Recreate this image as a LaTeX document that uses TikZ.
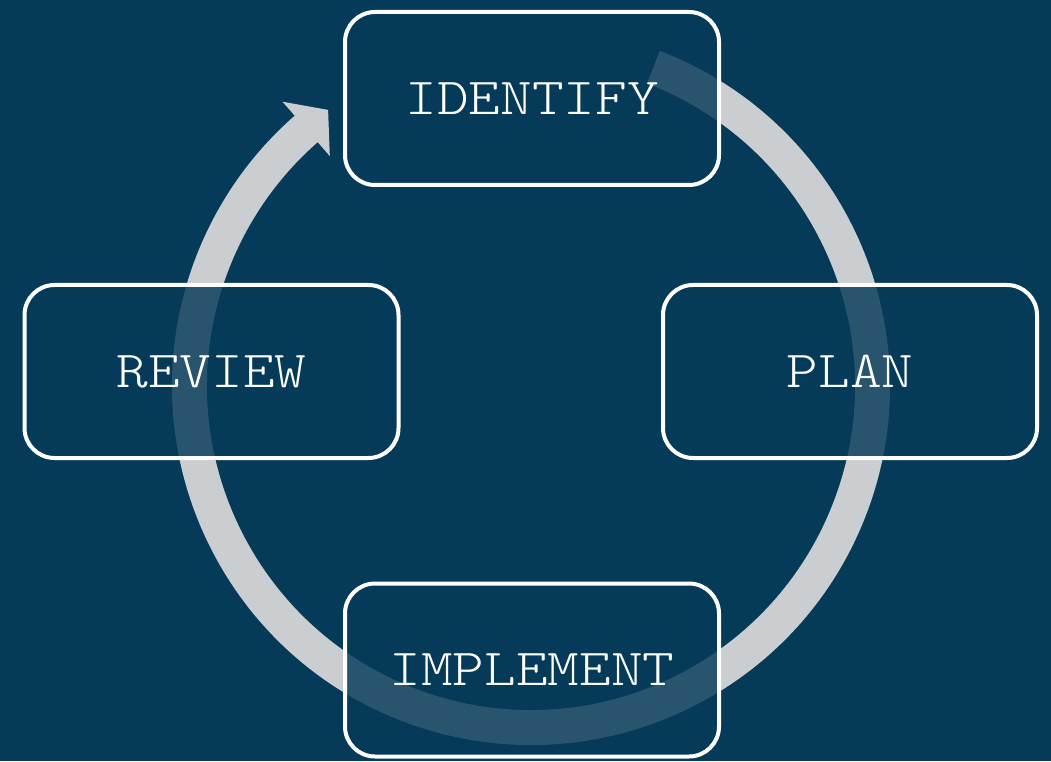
\documentclass[tikz,border=0pt]{standalone}
\usepackage{fontspec}
\setmonofont{Latin Modern Mono Light}[FakeStretch=1.16]
\usetikzlibrary{calc}
\definecolor{navy}{HTML}{053A59}
\definecolor{ringgrey}{HTML}{CBCED1}
\tikzset{
  stage/.style={draw=white, line width=4pt, rounded corners=30pt,
    fill=navy, fill opacity=0.82, text opacity=1,
    minimum width=374pt, minimum height=173pt,
    text=white, font=\ttfamily\fontsize{52}{60}\selectfont},
  ring/.style={draw=ringgrey, line width=35pt},
}
\begin{document}
\begin{tikzpicture}[x=1pt,y=1pt]
  % canvas and background
  \useasboundingbox (0,0) rectangle (1051,761);
  \fill[navy] (0,0) rectangle (1051,761);

  % cycle ring, running clockwise from the top
  \coordinate (ctr) at (531,375);
  \draw[ring] ($(ctr)+(69:341.5)$) arc[start angle=69, end angle=-229, radius=341.5];
  % arrow head at the end of the ring
  \coordinate (hb) at ($(ctr)+(131:341.5)$);
  \coordinate (hout) at ($(ctr)+(131:377.5)$);
  \coordinate (hin) at ($(ctr)+(131:305.5)$);
  \coordinate (htip) at ($(hb)+(41:28)$);
  \fill[ringgrey] ($(hout)+(221:1)$) -- (htip) -- ($(hin)+(221:1)$) -- cycle;

  % stages
  \node[stage] (identify)  at (532,662.5) {IDENTIFY};
  \node[stage] (plan)      at (850,389.5) {PLAN};
  \node[stage] (review)    at (211.5,389.5) {REVIEW};
  \node[stage] (implement) at (532,91) {IMPLEMENT};
\end{tikzpicture}
\end{document}
